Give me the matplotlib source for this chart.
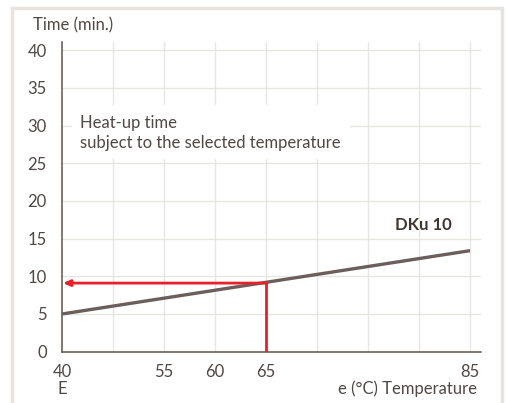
import matplotlib
matplotlib.use("Agg")
import matplotlib.pyplot as plt
from matplotlib.patches import Rectangle

plt.rcParams['font.family'] = ['Lato', 'DejaVu Sans']

# Data
x_positions = list(range(9))                 # grid columns
x_tick_pos = [0, 2, 3, 4, 8]
x_tick_labels = ["40\nE", "55", "60", "65", "85"]
y_ticks = [0, 5, 10, 15, 20, 25, 30, 35, 40]
line_x = [0, 8]
line_y = [5.0, 13.4]
sel_x = 4
sel_y = 9.1
series_name = "DKu 10"

W, H = 508, 403
fig = plt.figure(figsize=(W / 100, H / 100), dpi=100)
fig.patch.set_facecolor("white")

# outer frame
fig.patches.append(Rectangle((12 / W, -0.05), (502 - 12) / W, (H - 8) / H + 0.05,
                             transform=fig.transFigure, fill=False,
                             edgecolor="#e6e3e0", linewidth=2.5))

ax = fig.add_axes([62 / W, 1 - 351.7 / H, (481 - 62) / W, (351.7 - 42) / H])
ax.set_xlim(0, (481 - 62) / 51)
ax.set_ylim(0, (351.7 - 42) / 7.54)

grid_c = "#e8e6e3"
for xv in x_positions[1:]:
    ax.axvline(xv, color=grid_c, lw=1, zorder=0)
for yv in y_ticks[1:]:
    ax.axhline(yv, color=grid_c, lw=1, zorder=0)

spine_c = "#5e5450"
for s in ["top", "right"]:
    ax.spines[s].set_visible(False)
for s in ["left", "bottom"]:
    ax.spines[s].set_color(spine_c)
    ax.spines[s].set_linewidth(1.1)

fs = 12
text_c = "#4f4845"
ax.set_yticks(y_ticks)
ax.set_yticklabels([str(v) for v in y_ticks], fontsize=fs, color=text_c)
ax.set_xticks(x_tick_pos)
ax.set_xticklabels(x_tick_labels, fontsize=fs, color=text_c, linespacing=1.05)
ax.tick_params(axis="both", length=0)
ax.tick_params(axis="y", pad=11)
ax.tick_params(axis="x", pad=9)

# main line
ax.plot(line_x, line_y, color="#6b5f5b", lw=2.4, solid_capstyle="butt", zorder=3)

# red selection lines
red = "#e8202a"
ax.plot([sel_x, sel_x], [0, sel_y], color=red, lw=2.0, zorder=4, solid_capstyle="butt")
ax.annotate("", xy=(0.02, sel_y), xytext=(sel_x + 0.02, sel_y),
            arrowprops=dict(arrowstyle="-|>,head_length=0.4,head_width=0.18",
                            color=red, lw=2.0, shrinkA=0, shrinkB=0), zorder=4)

# annotation text with white box
ax.add_patch(Rectangle((0.2, 25.6), 5.45, 7.1, facecolor="white", edgecolor="none", zorder=1))
ax.text(0.36, 29.0, "Heat-up time\nsubject to the selected temperature",
        fontsize=fs, color=text_c, va="center", ha="left", linespacing=1.25, zorder=2)

ax.text(7.09, 16.8, series_name, fontsize=fs, fontweight="bold", color="#3e3633",
        ha="center", va="center")

fig.text(33 / W, 1 - 25 / H, "Time (min.)", fontsize=fs, color=text_c, va="center", ha="left")
fig.text(477 / W, 1 - 389 / H, "e (°C) Temperature", fontsize=fs, color=text_c,
         va="center", ha="right")

fig.savefig("out.png", dpi=100)
